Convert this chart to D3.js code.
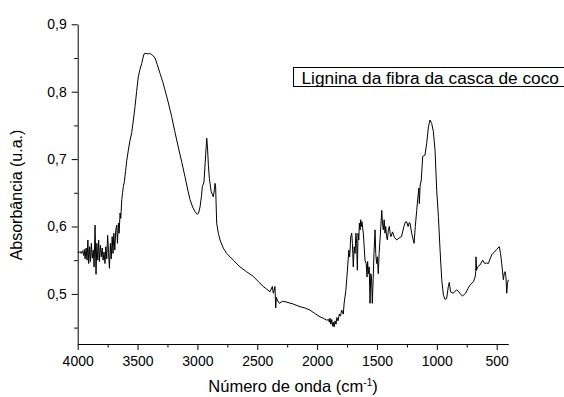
<!DOCTYPE html>
<html>
<head>
<meta charset="utf-8">
<script src="https://cdn.jsdelivr.net/npm/d3@7"></script>
<style>
  body { margin: 0; background: #fff; }
  svg { display: block; font-family: "Liberation Sans", Arial, sans-serif; }
</style>
</head>
<body>
<div id="chart"></div>
<script>
// wavenumber (cm-1) and absorbance
const waveNumbers = [
  4000, 3990, 3980, 3970, 3960, 3950, 3945, 3938, 3930, 3922, 3915, 3908, 3900, 3893, 3886, 3878,
  3870, 3863, 3855, 3847, 3840, 3832, 3825, 3818, 3810, 3802, 3795, 3788, 3780, 3772, 3765, 3757,
  3750, 3742, 3735, 3727, 3720, 3712, 3705, 3698, 3690, 3682, 3674, 3668, 3660, 3654, 3646, 3640,
  3632, 3625, 3619, 3610, 3600, 3590, 3577, 3565, 3549, 3535, 3521, 3508, 3494, 3480, 3465, 3455,
  3446, 3430, 3415, 3400, 3382, 3368, 3354, 3335, 3312, 3290, 3271, 3245, 3215, 3190, 3160, 3130,
  3104, 3080, 3062, 3040, 3020, 3001, 2990, 2978, 2966, 2959, 2945, 2935, 2927, 2922, 2916, 2908,
  2900, 2885, 2867, 2858, 2853, 2848, 2839, 2825, 2811, 2784, 2755, 2700, 2644, 2590, 2533, 2490,
  2450, 2420, 2394, 2374, 2366, 2352, 2346, 2340, 2333, 2316, 2290, 2268, 2200, 2143, 2100, 2060,
  2020, 1976, 1950, 1920, 1905, 1898, 1892, 1885, 1878, 1870, 1864, 1858, 1850, 1842, 1835, 1825,
  1815, 1805, 1795, 1781, 1775, 1767, 1760, 1753, 1745, 1735, 1728, 1719, 1711, 1705, 1698, 1690,
  1683, 1676, 1670, 1664, 1658, 1652, 1647, 1641, 1636, 1630, 1625, 1620, 1614, 1600, 1590, 1583,
  1578, 1572, 1565, 1558, 1552, 1546, 1539, 1532, 1525, 1516, 1510, 1503, 1496, 1489, 1482, 1475,
  1468, 1460, 1454, 1447, 1440, 1433, 1427, 1420, 1413, 1405, 1397, 1390, 1383, 1370, 1355, 1335,
  1315, 1295, 1275, 1262, 1252, 1240, 1230, 1224, 1210, 1190, 1180, 1168, 1155, 1150, 1146, 1140,
  1130, 1118, 1099, 1085, 1070, 1057, 1043, 1029, 1015, 1001, 987, 973, 959, 945, 932, 918,
  904, 896, 885, 862, 848, 834, 815, 800, 784, 760, 740, 723, 695, 680, 675, 673,
  668, 660, 639, 617, 600, 585, 570, 555, 541, 520, 500, 490, 478, 468, 458, 444,
  437, 430, 423, 416, 410, 403
];
const absorbance = [
  0.562, 0.561, 0.563, 0.560, 0.564, 0.557, 0.566, 0.552, 0.568, 0.550, 0.580, 0.545, 0.570, 0.548, 0.575, 0.553,
  0.565, 0.540, 0.602, 0.529, 0.575, 0.550, 0.580, 0.548, 0.572, 0.555, 0.568, 0.550, 0.562, 0.545, 0.570, 0.552,
  0.587, 0.560, 0.538, 0.575, 0.552, 0.585, 0.560, 0.590, 0.565, 0.595, 0.602, 0.575, 0.605, 0.590, 0.620, 0.612,
  0.640, 0.650, 0.659, 0.667, 0.682, 0.698, 0.713, 0.726, 0.739, 0.758, 0.778, 0.800, 0.822, 0.833, 0.842, 0.850,
  0.856, 0.857, 0.856, 0.857, 0.855, 0.853, 0.850, 0.840, 0.827, 0.815, 0.8025, 0.785, 0.763, 0.742, 0.718, 0.695,
  0.674, 0.654, 0.640, 0.629, 0.622, 0.618, 0.620, 0.629, 0.645, 0.659, 0.666, 0.695, 0.718, 0.731, 0.718, 0.690,
  0.671, 0.652, 0.644, 0.655, 0.664, 0.660, 0.605, 0.590, 0.580, 0.568, 0.560, 0.550, 0.540, 0.533, 0.526, 0.518,
  0.511, 0.507, 0.503, 0.511, 0.501, 0.511, 0.479, 0.495, 0.491, 0.486, 0.489, 0.4885, 0.485, 0.481, 0.479, 0.476,
  0.471, 0.466, 0.464, 0.461, 0.462, 0.458, 0.464, 0.455, 0.462, 0.452, 0.458, 0.451, 0.460, 0.455, 0.465, 0.460,
  0.470, 0.467, 0.476, 0.470, 0.485, 0.496, 0.505, 0.521, 0.540, 0.565, 0.555, 0.585, 0.590, 0.575, 0.540, 0.570,
  0.560, 0.590, 0.575, 0.535, 0.590, 0.580, 0.605, 0.595, 0.610, 0.600, 0.607, 0.598, 0.590, 0.550, 0.545, 0.525,
  0.548, 0.530, 0.540, 0.486, 0.530, 0.526, 0.486, 0.521, 0.560, 0.595, 0.560, 0.545, 0.555, 0.530, 0.560, 0.580,
  0.600, 0.624, 0.605, 0.595, 0.610, 0.590, 0.600, 0.585, 0.580, 0.595, 0.600, 0.590, 0.585, 0.592, 0.584, 0.580,
  0.583, 0.585, 0.600, 0.607, 0.607, 0.600, 0.606, 0.605, 0.590, 0.575, 0.600, 0.624, 0.649, 0.657, 0.634, 0.660,
  0.669, 0.704, 0.706, 0.723, 0.748, 0.758, 0.753, 0.741, 0.713, 0.654, 0.615, 0.565, 0.521, 0.498, 0.492, 0.493,
  0.511, 0.517, 0.503, 0.501, 0.504, 0.506, 0.503, 0.499, 0.497, 0.501, 0.508, 0.513, 0.518, 0.525, 0.533, 0.555,
  0.535, 0.540, 0.543, 0.550, 0.545, 0.546, 0.545, 0.552, 0.558, 0.562, 0.566, 0.568, 0.570, 0.560, 0.545, 0.521,
  0.530, 0.533, 0.526, 0.501, 0.515, 0.521
];
const xTicks = [4000, 3500, 3000, 2500, 2000, 1500, 1000, 500];
const yTicks = [0.5, 0.6, 0.7, 0.8, 0.9];
const legendLabel = "Lignina da fibra da casca de coco";

const width = 564, height = 397;
const plotLeft = 77.7, plotRight = 508.3, plotTop = 24.3, plotBottom = 344;

const svg = d3.select("#chart").append("svg")
    .attr("width", width)
    .attr("height", height);

const x = d3.scaleLinear().domain([4000, 403]).range([plotLeft, plotRight]);
// 0.1 absorbance = 67.4 px
const y = d3.scaleLinear().domain([0.9 - (plotBottom - plotTop) / 674, 0.9]).range([plotBottom, plotTop]);

const fmt = d => d.toFixed(1).replace(".", ",");

// x axis with minor ticks
const xMinor = d3.range(3750, 403, -500);
svg.append("g")
    .attr("transform", `translate(0,${plotBottom})`)
    .call(d3.axisBottom(x).tickValues(xMinor).tickSize(3.5).tickFormat(""))
    .call(g => g.select(".domain").remove());
svg.append("g")
    .attr("transform", `translate(0,${plotBottom})`)
    .call(d3.axisBottom(x).tickValues(xTicks).tickSize(6).tickSizeOuter(0).tickPadding(6).tickFormat(d3.format("d")))
    .call(g => g.selectAll("text").attr("font-size", 14).attr("fill", "#000").attr("font-family", "Liberation Sans, Arial, sans-serif"));

// y axis with minor ticks
const yMinor = [0.45, 0.55, 0.65, 0.75, 0.85];
svg.append("g")
    .attr("transform", `translate(${plotLeft},0)`)
    .call(d3.axisLeft(y).tickValues(yMinor).tickSize(3.5).tickFormat(""))
    .call(g => g.select(".domain").remove());
svg.append("g")
    .attr("transform", `translate(${plotLeft},0)`)
    .call(d3.axisLeft(y).tickValues(yTicks).tickSize(6).tickSizeOuter(0).tickPadding(5).tickFormat(fmt))
    .call(g => g.selectAll("text").attr("font-size", 14).attr("fill", "#000").attr("font-family", "Liberation Sans, Arial, sans-serif"));

svg.selectAll(".tick line, .domain").attr("stroke", "#000");

// spectrum
const points = waveNumbers.map((w, i) => [w, absorbance[i]]);
const line = d3.line().x(d => x(d[0])).y(d => y(d[1]));
svg.append("path")
    .datum(points)
    .attr("fill", "none")
    .attr("stroke", "#000")
    .attr("stroke-width", 1)
    .attr("stroke-linejoin", "round")
    .attr("d", line);

// axis titles
const xTitle = svg.append("text")
    .attr("x", 293)
    .attr("y", 392)
    .attr("text-anchor", "middle")
    .attr("font-size", 16.5);
xTitle.append("tspan").text("Número de onda (cm");
xTitle.append("tspan").attr("dy", -6).attr("font-size", 10).text("-1");
xTitle.append("tspan").attr("dy", 6).text(")");

svg.append("text")
    .attr("transform", `translate(21.5,195) rotate(-90)`)
    .attr("text-anchor", "middle")
    .attr("font-size", 16)
    .text("Absorbância (u.a.)");

// legend
svg.append("rect")
    .attr("x", 293.5)
    .attr("y", 67.5)
    .attr("width", 280)
    .attr("height", 19)
    .attr("fill", "#fff")
    .attr("stroke", "#000");
svg.append("text")
    .attr("x", 301.5)
    .attr("y", 83.5)
    .attr("font-size", 17.3)
    .text(legendLabel);
</script>
</body>
</html>
